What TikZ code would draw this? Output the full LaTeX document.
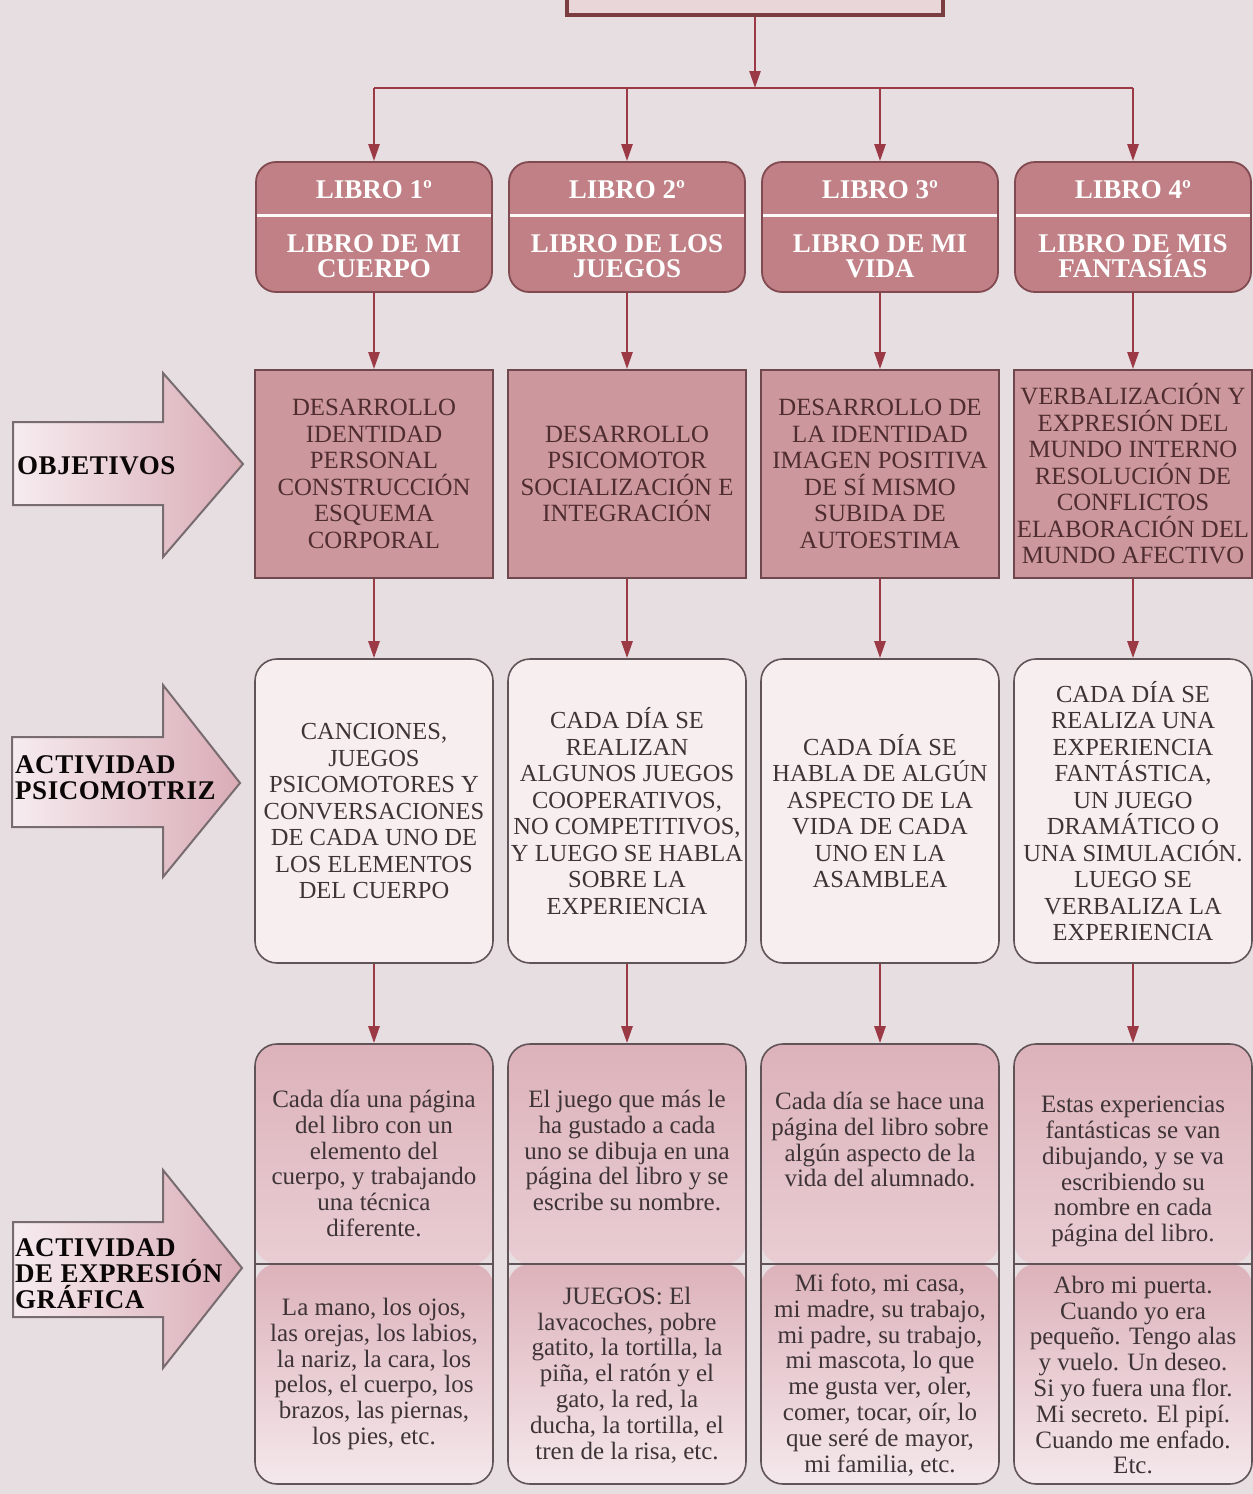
\documentclass[tikz,border=0pt]{standalone}
\usepackage{fontspec}
\setmainfont{Liberation Serif}
\usetikzlibrary{arrows.meta}

\definecolor{bgc}{RGB}{231,222,226}
\definecolor{conncol}{RGB}{155,58,68}
\definecolor{hdrfill}{RGB}{192,128,133}
\definecolor{hdrdraw}{RGB}{128,74,80}
\definecolor{objfill}{RGB}{204,152,157}
\definecolor{objdraw}{RGB}{110,72,76}
\definecolor{actfill}{RGB}{247,238,240}
\definecolor{actdraw}{RGB}{96,84,88}
\definecolor{botA}{RGB}{221,178,186}
\definecolor{botB}{RGB}{244,232,236}
\definecolor{txtdark}{RGB}{62,52,55}
\definecolor{objtxt}{RGB}{78,44,48}
\definecolor{arrL}{RGB}{246,236,240}
\definecolor{arrR}{RGB}{218,172,182}
\definecolor{arrdraw}{RGB}{120,108,112}
\definecolor{topfill}{RGB}{233,214,216}
\definecolor{topdraw}{RGB}{122,62,64}

\begin{document}
\begin{tikzpicture}[x=1pt,y=-1pt,
  link/.style={draw=conncol, line width=2.6pt, -{Triangle[width=11pt,length=17pt]}},
  busline/.style={draw=conncol, line width=2.6pt},
  topbox/.style={draw=topdraw, line width=4pt, fill=topfill, minimum width=376pt, minimum height=40pt, inner sep=0pt},
  hdrbox/.style={draw=hdrdraw, line width=1.8pt, fill=hdrfill, rounded corners=20pt,
    minimum width=236pt, minimum height=130pt, inner sep=0pt,
    path picture={\draw[white!95!hdrfill, line width=3pt]
      ([yshift=12pt]path picture bounding box.west) -- ([yshift=12pt]path picture bounding box.east);}},
  hdrtxt/.style={text=white, font=\fontsize{27}{25}\selectfont\bfseries, align=center, inner sep=0pt},
  objbox/.style={draw=objdraw, line width=1.8pt, fill=objfill, minimum width=238pt, minimum height=208pt,
    inner sep=0pt, align=center, text=objtxt, font=\fontsize{24.8}{26.5}\selectfont},
  actbox/.style={draw=actdraw, line width=1.6pt, fill=actfill, rounded corners=22pt, minimum width=238pt,
    minimum height=304pt, inner sep=0pt, align=center, text=txtdark, font=\fontsize{24.5}{26.5}\selectfont},
  botbox/.style={draw=actdraw, line width=1.6pt, rounded corners=22pt, minimum width=238pt,
    minimum height=440pt, inner sep=0pt,
    path picture={
      \shade[top color=botA, bottom color=botB] (path picture bounding box.north west) rectangle (path picture bounding box.east);
      \shade[top color=botA, bottom color=botB] (path picture bounding box.west) rectangle (path picture bounding box.south east);
      \draw[actdraw, line width=1.2pt] (path picture bounding box.west) -- (path picture bounding box.east);}},
  bottxt/.style={align=center, text=txtdark, font=\fontsize{25}{25.8}\selectfont, inner sep=0pt},
  blockarr/.style={draw=arrdraw, line width=2pt, left color=arrL, right color=arrR, line join=miter},
  arrtxt/.style={align=left, anchor=west, text=black!85!objtxt, inner sep=0pt,
    font=\fontsize{27}{26}\selectfont\bfseries\addfontfeatures{LetterSpace=2}}
]
\fill[bgc] (0,0) rectangle (1253,1494);
\useasboundingbox (0,0) rectangle (1253,1494);

% top box
\node[topbox] (top) at (755,-5) {};
\coordinate (bus) at (755,88);
\coordinate (busL) at (374,88);
\coordinate (busR) at (1133,88);

% headers
\node[hdrbox] (h1) at (374,227) {};
\node[hdrbox] (h2) at (627,227) {};
\node[hdrbox] (h3) at (880,227) {};
\node[hdrbox] (h4) at (1133,227) {};
\node[hdrtxt] (h1a) at (374,190) {LIBRO 1º};
\node[hdrtxt] (h2a) at (627,190) {LIBRO 2º};
\node[hdrtxt] (h3a) at (880,190) {LIBRO 3º};
\node[hdrtxt] (h4a) at (1133,190) {LIBRO 4º};
\node[hdrtxt] (h1b) at (374,256) {LIBRO DE MI\\CUERPO};
\node[hdrtxt] (h2b) at (627,256) {LIBRO DE LOS\\JUEGOS};
\node[hdrtxt] (h3b) at (880,256) {LIBRO DE MI\\VIDA};
\node[hdrtxt] (h4b) at (1133,256) {LIBRO DE MIS\\FANTASÍAS};

% objetivos
\node[objbox] (o1) at (374,474) {DESARROLLO\\IDENTIDAD\\PERSONAL\\CONSTRUCCIÓN\\ESQUEMA\\CORPORAL};
\node[objbox] (o2) at (627,474) {DESARROLLO\\PSICOMOTOR\\SOCIALIZACIÓN E\\INTEGRACIÓN};
\node[objbox] (o3) at (880,474) {DESARROLLO DE\\LA IDENTIDAD\\IMAGEN POSITIVA\\DE SÍ MISMO\\SUBIDA DE\\AUTOESTIMA};
\node[objbox] (o4) at (1133,474) {VERBALIZACIÓN Y\\EXPRESIÓN DEL\\MUNDO INTERNO\\RESOLUCIÓN DE\\CONFLICTOS\\ELABORACIÓN DEL\\MUNDO AFECTIVO};

% actividad psicomotriz
\node[actbox] (a1) at (374,811) {CANCIONES,\\JUEGOS\\PSICOMOTORES Y\\CONVERSACIONES\\DE CADA UNO DE\\LOS ELEMENTOS\\DEL CUERPO};
\node[actbox] (a2) at (627,811) {CADA DÍA SE\\REALIZAN\\ALGUNOS JUEGOS\\COOPERATIVOS,\\NO COMPETITIVOS,\\Y LUEGO SE HABLA\\SOBRE LA\\EXPERIENCIA};
\node[actbox] (a3) at (880,811) {CADA DÍA SE\\HABLA DE ALGÚN\\ASPECTO DE LA\\VIDA DE CADA\\UNO EN LA\\ASAMBLEA};
\node[actbox] (a4) at (1133,811) {CADA DÍA SE\\REALIZA UNA\\EXPERIENCIA\\FANTÁSTICA,\\UN JUEGO\\DRAMÁTICO O\\UNA SIMULACIÓN.\\LUEGO SE\\VERBALIZA LA\\EXPERIENCIA};

% expresion grafica
\node[botbox] (b1) at (374,1264) {};
\node[botbox] (b2) at (627,1264) {};
\node[botbox] (b3) at (880,1264) {};
\node[botbox] (b4) at (1133,1264) {};
\node[bottxt, anchor=north] (b1t) at (374,1090) {Cada día una página\\del libro con un\\elemento del\\cuerpo, y trabajando\\una técnica\\diferente.};
\node[bottxt, anchor=north] (b2t) at (627,1090) {El juego que más le\\ha gustado a cada\\uno se dibuja en una\\página del libro y se\\escribe su nombre.};
\node[bottxt, anchor=north] (b3t) at (880,1092) {Cada día se hace una\\página del libro sobre\\algún aspecto de la\\vida del alumnado.};
\node[bottxt, anchor=north] (b4t) at (1133,1096) {Estas experiencias\\fantásticas se van\\dibujando, y se va\\escribiendo su\\nombre en cada\\página del libro.};
\node[bottxt] (b1b) at (374,1374) {La mano, los ojos,\\las orejas, los labios,\\la nariz, la cara, los\\pelos, el cuerpo, los\\brazos, las piernas,\\los pies, etc.};
\node[bottxt] (b2b) at (627,1375) {JUEGOS: El\\lavacoches, pobre\\gatito, la tortilla, la\\piña, el ratón y el\\gato, la red, la\\ducha, la tortilla, el\\tren de la risa, etc.};
\node[bottxt] (b3b) at (880,1375) {Mi foto, mi casa,\\mi madre, su trabajo,\\mi padre, su trabajo,\\mi mascota, lo que\\me gusta ver, oler,\\comer, tocar, oír, lo\\que seré de mayor,\\mi familia, etc.};
\node[bottxt] (b4b) at (1133,1375) {Abro mi puerta.\\Cuando yo era\\pequeño. Tengo alas\\y vuelo. Un deseo.\\Si yo fuera una flor.\\Mi secreto. El pipí.\\Cuando me enfado.\\Etc.};

% left block arrows
\draw[blockarr] (13,422) -- (163,422) -- (163,373) -- (243,464) -- (163,557) -- (163,505) -- (13,505) -- cycle;
\draw[blockarr] (12,737) -- (163,737) -- (163,685) -- (240,783) -- (163,877) -- (163,827) -- (12,827) -- cycle;
\draw[blockarr] (13,1222) -- (163,1222) -- (163,1170) -- (242,1268) -- (163,1368) -- (163,1317) -- (13,1317) -- cycle;
\node[arrtxt] (l1) at (17,466) {OBJETIVOS};
\node[arrtxt] (l2) at (15,778) {ACTIVIDAD\\PSICOMOTRIZ};
\node[arrtxt] (l3) at (15,1274) {ACTIVIDAD\\DE EXPRESIÓN\\GRÁFICA};

% connectors
\draw[busline] (busL) -- (busR);
\draw[link] (top.south) -- (bus);
\foreach \i in {1,2,3,4}{
  \draw[link] (h\i.north |- bus) -- (h\i.north);
  \draw[link] (h\i.south) -- (o\i.north);
  \draw[link] (o\i.south) -- (a\i.north);
  \draw[link] (a\i.south) -- (b\i.north);
}
\end{tikzpicture}
\end{document}
